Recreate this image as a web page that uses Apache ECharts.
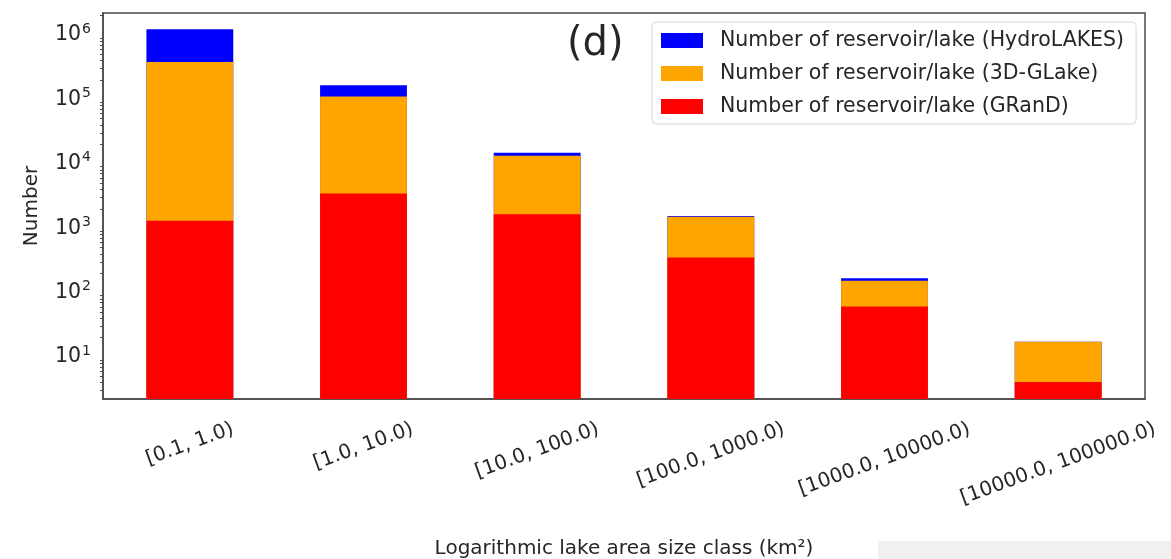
<!DOCTYPE html>
<html>
<head>
<meta charset="utf-8">
<script src="https://cdn.jsdelivr.net/npm/echarts@6/dist/echarts.min.js"></script>
<style>
  html, body { margin: 0; padding: 0; background: #fff; }
  #chart { width: 1171px; height: 559px; }
</style>
</head>
<body>
<div id="chart"></div>
<script>
// lake area size classes (km2)
const categories = ['[0.1, 1.0)', '[1.0, 10.0)', '[10.0, 100.0)', '[100.0, 1000.0)', '[1000.0, 10000.0)', '[10000.0, 100000.0)'];
// counts per class
const hydroLakes = [1230000, 165000, 14800, 1550, 167, 17.3];
const glake3d = [380000, 111000, 13300, 1500, 153, 17.3];
const grand = [1300, 3450, 1650, 352, 61, 4.1];
const legendNames = [
  'Number of reservoir/lake (HydroLAKES)',
  'Number of reservoir/lake (3D-GLake)',
  'Number of reservoir/lake (GRanD)'
];

const font = '"DejaVu Sans", sans-serif';
const textColor = '#262626';

// rotated x labels: matplotlib centres the rotated box under the tick,
// so push longer labels down a bit (padding keeps the centre on the tick)
const rad = 20 * Math.PI / 180;
const ctx = document.createElement('canvas').getContext('2d');
ctx.font = '20px "DejaVu Sans"';
const boxH = categories.map(c => ctx.measureText(c).width * Math.sin(rad) + 20 * Math.cos(rad));
const rich = {};
categories.forEach((c, i) => {
  const p = (boxH[i] - boxH[0]) * Math.cos(rad);
  rich['l' + i] = { fontSize: 20, fontFamily: font, color: textColor, padding: [p, p * Math.tan(rad), 0, 0] };
});

const chart = echarts.init(document.getElementById('chart'));

chart.setOption({
  animation: false,
  title: {
    text: '(d)',
    left: 562,
    top: 20,
    textStyle: { fontSize: 40, fontWeight: 'normal', fontFamily: font, color: textColor }
  },
  legend: {
    data: legendNames,
    left: 652,
    top: 22,
    orient: 'vertical',
    icon: 'rect',
    itemWidth: 42,
    itemHeight: 15,
    itemGap: 12,
    padding: [8, 12, 7, 9],
    backgroundColor: '#fff',
    borderColor: '#d6d6d6',
    borderWidth: 1,
    borderRadius: 4,
    textStyle: { fontSize: 20.5, fontFamily: font, color: textColor, padding: [0, 0, 0, 12] }
  },
  grid: {
    left: 103,
    right: 26,
    top: 13,
    bottom: 160,
    outerBoundsMode: 'none',
    containLabel: false,
    show: true,
    borderColor: '#4a4a4a',
    borderWidth: 1.5,
    backgroundColor: 'transparent'
  },
  xAxis: {
    type: 'category',
    data: categories,
    name: 'Logarithmic lake area size class (km²)',
    nameLocation: 'middle',
    nameGap: 140,
    nameTextStyle: { fontSize: 20, fontFamily: font, color: textColor },
    axisLine: { lineStyle: { color: '#4a4a4a', width: 1.5 } },
    axisTick: { alignWithLabel: true, length: 6, lineStyle: { color: '#4a4a4a', width: 1.5 } },
    axisLabel: {
      interval: 0,
      rotate: 20,
      align: 'center',
      verticalAlign: 'middle',
      margin: 20 + boxH[0] / 2,
      fontSize: 20,
      fontFamily: font,
      color: textColor,
      formatter: (v, i) => '{l' + i + '|' + v + '}',
      rich: rich
    }
  },
  yAxis: {
    type: 'log',
    logBase: 10,
    min: 2.23,
    max: 2190000,
    splitNumber: 6,
    name: 'Number',
    nameLocation: 'middle',
    nameGap: 61,
    nameTextStyle: { fontSize: 20, fontFamily: font, color: textColor },
    axisLine: { show: true, lineStyle: { color: '#4a4a4a', width: 1.5 } },
    axisTick: { length: 6, lineStyle: { color: '#4a4a4a', width: 1.5 } },
    minorTick: { show: true, splitNumber: 9, length: 3, lineStyle: { color: '#4a4a4a', width: 1 } },
    splitLine: { show: false },
    axisLabel: {
      margin: 12,
      showMinLabel: false,
      showMaxLabel: false,
      formatter: v => {
        const e = Math.round(Math.log10(v));
        if (Math.abs(Math.log10(v) - e) > 1e-6) return '';
        return '{b|10}{s|' + e + '}';
      },
      rich: {
        b: { fontSize: 20.5, fontFamily: font, color: textColor },
        s: { fontSize: 14, fontFamily: font, color: textColor, padding: [0, 0, 12, 1] }
      }
    }
  },
  series: [
    { name: legendNames[0], type: 'bar', data: hydroLakes, barWidth: '50%', barGap: '-100%', clip: true, itemStyle: { color: '#0000ff' } },
    { name: legendNames[1], type: 'bar', data: glake3d, barWidth: '50%', barGap: '-100%', clip: true, itemStyle: { color: '#ffa500' } },
    { name: legendNames[2], type: 'bar', data: grand, barWidth: '50%', barGap: '-100%', clip: true, itemStyle: { color: '#ff0000' } }
  ],
  graphic: [
    { type: 'rect', left: 878, top: 541, shape: { width: 293, height: 18 }, style: { fill: '#f0f0f0' }, silent: true }
  ]
});
</script>
</body>
</html>
